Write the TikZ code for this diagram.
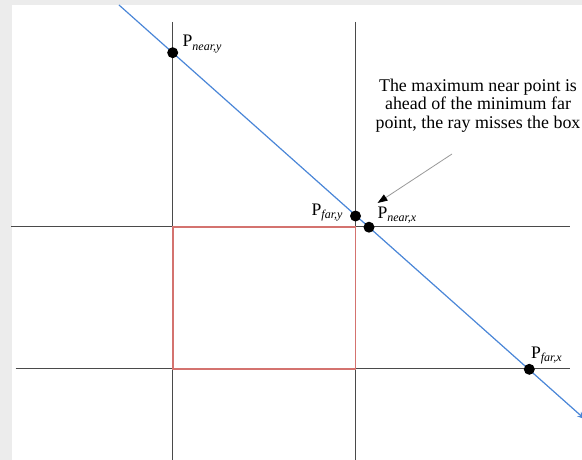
\documentclass[tikz,border=0pt]{standalone}
\usepackage{fontspec}
\setmainfont{Liberation Serif}
\usetikzlibrary{arrows.meta}
\definecolor{raycol}{HTML}{4A86D8}
\definecolor{boxcol}{HTML}{D4736F}
\definecolor{gridcol}{HTML}{4A4A4A}
\definecolor{bgcol}{HTML}{ECECEC}
\definecolor{anncol}{HTML}{999999}
\newcommand{\plabel}[1]{P{\fontsize{12}{12}\selectfont\itshape\raisebox{-3.2pt}{#1}}}
\tikzset{
  gridline/.style={draw=gridcol, line width=1.5pt},
  boxline/.style={draw=boxcol, line width=1.6pt},
  rayline/.style={draw=raycol, line width=1.2pt, -{Stealth[length=8pt,width=6pt]}},
  hitdot/.style={circle, fill=black, inner sep=0pt, minimum size=11pt},
  ptlabel/.style={anchor=base west, inner sep=0pt, font=\fontsize{17.6}{18}\selectfont},
  note/.style={align=center, inner sep=0pt, font=\fontsize{17.9}{18.5}\selectfont},
  noteline/.style={draw=anncol, line width=0.8pt, -{Triangle[length=10pt,width=7pt,color=black]}}
}
\begin{document}
\begin{tikzpicture}[x=1pt,y=-1pt]
  \useasboundingbox (0,0) rectangle (582,460);
  \fill[bgcol] (0,0) rectangle (582,460);
  \fill[white] (12,5) rectangle (582,460);
  % grid lines
  \coordinate (v1t) at (172.7,22);  \coordinate (v1b) at (172.7,460);
  \coordinate (v2t) at (355.5,22);  \coordinate (v2b) at (355.5,460);
  \coordinate (h1l) at (11,226.7);  \coordinate (h1r) at (570,226.7);
  \coordinate (h2l) at (15.7,368.7); \coordinate (h2r) at (570,368.7);
  \draw[gridline] (v1t) -- (v1b);
  \draw[gridline] (v2t) -- (v2b);
  \draw[gridline] (h1l) -- (h1r);
  \draw[gridline] (h2l) -- (h2r);
  % box
  \coordinate (boxtl) at (172.7,226.7);
  \coordinate (boxbr) at (355.5,368.7);
  \draw[boxline] (boxtl) rectangle (boxbr);
  % ray
  \coordinate (raystart) at (119,5);
  \coordinate (rayend) at (585,419.3);
  \draw[rayline] (raystart) -- (rayend);
  % hit points
  \node[hitdot] (pny) at (172.7,52.7) {};
  \node[hitdot] (pfy) at (355.5,216) {};
  \node[hitdot] (pnx) at (369,227.2) {};
  \node[hitdot] (pfx) at (529.3,369.3) {};
  % labels
  \node[ptlabel] (lpny) at (182.5,47) {\plabel{near,y}};
  \node[ptlabel] (lpfy) at (311.5,215.7) {\plabel{far,y}};
  \node[ptlabel] (lpnx) at (377.3,218.3) {\plabel{near,x}};
  \node[ptlabel] (lpfx) at (530.8,358.3) {\plabel{far,x}};
  % annotation
  \node[note] (ann) at (478,105.3) {The maximum near point is\\ahead of the minimum far\\point, the ray misses the box};
  \coordinate (annfrom) at (452,154);
  \coordinate (annto) at (377.5,203);
  \draw[noteline] (annfrom) -- (annto);
\end{tikzpicture}
\end{document}
